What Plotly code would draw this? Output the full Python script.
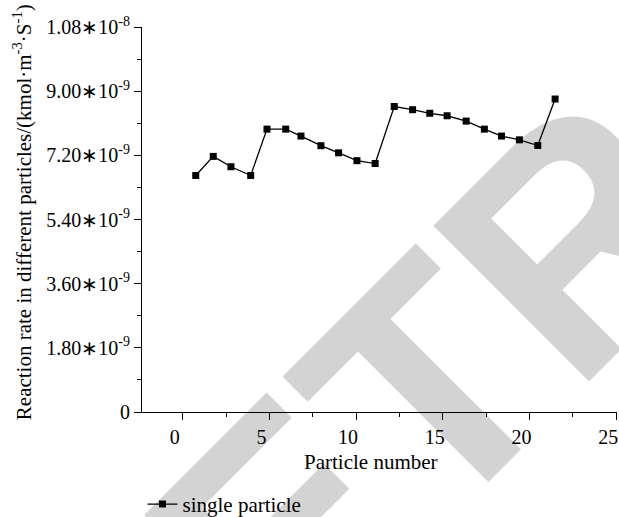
import plotly.graph_objects as go

particle_number = [0.75, 1.76, 2.78, 3.92, 4.86, 5.94, 6.82, 7.97, 8.99, 10.05, 11.1,
                   12.2, 13.26, 14.25, 15.25, 16.35, 17.4, 18.39, 19.42, 20.48, 21.48]
reaction_rate = [6.635e-9, 7.17e-9, 6.88e-9, 6.635e-9, 7.935e-9, 7.935e-9, 7.74e-9,
                 7.47e-9, 7.27e-9, 7.05e-9, 6.97e-9, 8.57e-9, 8.48e-9, 8.38e-9,
                 8.31e-9, 8.16e-9, 7.935e-9, 7.74e-9, 7.635e-9, 7.475e-9, 8.78e-9]
series_name = "single particle"

y_tick_vals = [0, 1.8e-9, 3.6e-9, 5.4e-9, 7.2e-9, 9.0e-9, 1.08e-8]
y_tick_text = ["0", "1.80∗10<sup>-9</sup>", "3.60∗10<sup>-9</sup>", "5.40∗10<sup>-9</sup>",
               "7.20∗10<sup>-9</sup>", "9.00∗10<sup>-9</sup>", "1.08∗10<sup>-8</sup>"]
x_tick_vals = [0, 5, 10, 15, 20, 25]
x_title = "Particle number"
y_title = "Reaction rate in different particles/(kmol·m<sup>-3</sup>·S<sup>-1</sup>)"

FONT = "Liberation Serif"

fig = go.Figure()
fig.add_trace(go.Scatter(
    x=particle_number, y=reaction_rate, mode="lines+markers", name=series_name,
    line=dict(color="black", width=1.3),
    marker=dict(symbol="square", size=7, color="black"),
))

fig.update_layout(
    width=619, height=517,
    margin=dict(l=142, r=2, t=27, b=104.5, autoexpand=False),
    paper_bgcolor="white", plot_bgcolor="white",
    font=dict(family=FONT, size=20, color="black"),
    showlegend=True,
    legend=dict(x=0.001, y=-0.24, xanchor="left", yanchor="middle",
                font=dict(family=FONT, size=21), bgcolor="rgba(0,0,0,0)"),
    xaxis=dict(
        range=[-2.35, 25.05], tickmode="array", tickvals=x_tick_vals, automargin=False,
        showgrid=False, zeroline=False, showline=True, linecolor="black", linewidth=1.2,
        ticks="outside", ticklen=7, tickwidth=1.2, tickcolor="black", ticklabelshift=-8,
        ticklabeloverflow="allow",
        minor=dict(tickmode="linear", tick0=2.5, dtick=5, ticks="outside", ticklen=4,
                   tickwidth=1.2, tickcolor="black"),
        tickfont=dict(family=FONT, size=20),
    ),
    yaxis=dict(
        range=[0, 1.08e-8], tickmode="array", tickvals=y_tick_vals, ticktext=y_tick_text,
        automargin=False,
        showgrid=False, zeroline=False, showline=True, linecolor="black", linewidth=1.2,
        ticks="outside", ticklen=7, tickwidth=1.2, tickcolor="black",
        minor=dict(tickmode="linear", tick0=0, dtick=0.9e-9, ticks="outside", ticklen=4,
                   tickwidth=1.2, tickcolor="black"),
        tickfont=dict(family=FONT, size=20),
    ),
    annotations=[
        dict(text="<b>RETRACTED</b>", xref="paper", yref="paper", x=1.26, y=0.88,
             xanchor="center", yanchor="middle", showarrow=False, textangle=-45,
             font=dict(family="Liberation Sans", size=320, color="rgba(0,0,0,0.173)")),
        dict(text=y_title, xref="paper", yref="paper", x=-0.2526, y=0.519,
             xanchor="center", yanchor="middle", showarrow=False, textangle=-90,
             font=dict(family=FONT, size=21, color="black")),
        dict(text=x_title, xref="paper", yref="paper", x=0.482, y=-0.131,
             xanchor="center", yanchor="middle", showarrow=False,
             font=dict(family=FONT, size=21, color="black")),
    ],
)

fig.write_html("out.html", config={"displayModeBar": False},
               post_script="document.body.style.margin='0px';")
